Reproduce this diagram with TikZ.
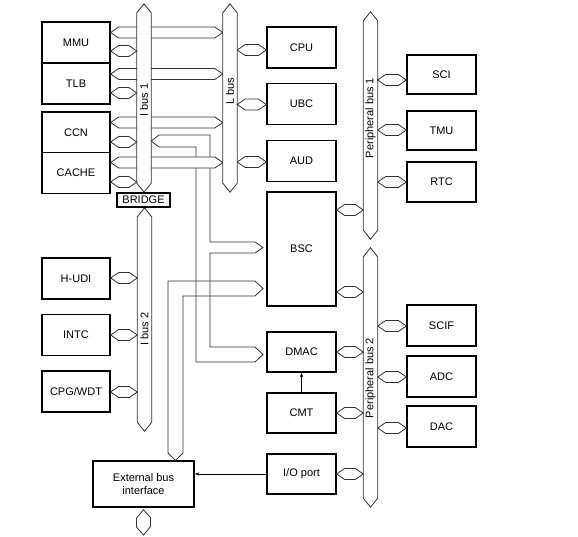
\documentclass[tikz,border=0pt]{standalone}
\usepackage{fontspec}
\setmainfont{Liberation Sans}
\usetikzlibrary{arrows.meta,calc}

% hexagon bus connector between two anchors at height #3
\newcommand\busconn[3]{%
  \draw[link] (#1 |- 0,#3) -- ++(8,-5.5) -- ($(#2 |- 0,#3)+(-8,-5.5)$)
    -- (#2 |- 0,#3) -- ++(-8,5.5) -- ($(#1 |- 0,#3)+(8,5.5)$) -- cycle;}

\begin{document}
\begin{tikzpicture}[x=1pt, y=-1pt,
  every node/.style={font=\fontsize{11}{13}\selectfont},
  unit/.style={draw, line width=1.3pt, fill=white, minimum width=68pt,
               minimum height=41pt, inner sep=0pt, align=center},
  link/.style={draw=black!80, line width=0.8pt, fill=white},
  chan/.style={draw=black!80, line width=0.8pt},
  busbody/.style={minimum width=14pt, inner sep=0pt},
  buslbl/.style={rotate=90, inner sep=0pt},
  sig/.style={-{Latex[length=4pt,width=3.5pt]}, line width=0.7pt},
]
\useasboundingbox (0,0) rectangle (578,536);

%% -- Left column: I bus units --------------------------------------------
\node[unit] (mmu)   at (76,42.5)  {MMU};
\node[unit] (tlb)   at (76,83.5)  {TLB};
\node[unit] (ccn)   at (76,132.5) {CCN};
\node[unit] (cache) at (76,173)   {CACHE};
\node[unit] (hudi)  at (76,278.5) {H-UDI};
\node[unit] (intc)  at (76,335)   {INTC};
\node[unit] (cpg)   at (76,391.5) {CPG/WDT};

%% -- Middle column -------------------------------------------------------
\node[unit, minimum width=69pt] (cpu)  at (301.5,47.5) {CPU};
\node[unit, minimum width=69pt] (ubc)  at (301.5,104)  {UBC};
\node[unit, minimum width=69pt] (aud)  at (301.5,161)  {AUD};
\node[unit, minimum width=69pt, minimum height=114pt] (bsc) at (301.5,249) {BSC};
\node[unit, minimum width=69pt, minimum height=40pt] (dmac) at (301.5,352) {DMAC};
\node[unit, minimum width=69pt, minimum height=40pt] (cmt)  at (301.5,413) {CMT};
\node[unit, minimum width=69pt, minimum height=40pt] (io)   at (301.5,474) {I/O port};

%% -- Right column: peripherals -------------------------------------------
\node[unit, minimum width=69pt, minimum height=39pt] (sci)  at (441.5,74.5)  {SCI};
\node[unit, minimum width=69pt, minimum height=39pt] (tmu)  at (441.5,130.5) {TMU};
\node[unit, minimum width=69pt, minimum height=40pt] (rtc)  at (441.5,182)   {RTC};
\node[unit, minimum width=69pt] (scif) at (441.5,325.5) {SCIF};
\node[unit, minimum width=69pt] (adc)  at (441.5,376.5) {ADC};
\node[unit, minimum width=69pt] (dac)  at (441.5,426.5) {DAC};

\node[unit, minimum width=101pt, minimum height=46pt] (ebi) at (143.5,484)
  {External bus\\interface};

%% -- Bus bodies ----------------------------------------------------------
\node[busbody, minimum height=188pt] (ibusA) at (144,98)      {};
\node[busbody, minimum height=188pt] (lbus)  at (230,98)      {};
\node[busbody, minimum height=223pt] (ibusB) at (144.5,319.5) {};
\node[busbody, minimum height=227pt] (pbusA) at (370.5,125.5) {};
\node[busbody, minimum height=259pt] (pbusB) at (370.5,377.5) {};

%% -- Internal channels to BSC / DMAC / external bus ----------------------
\draw[chan] (ibusA.east |- 0,141) -- (159,135) -- (210,135) -- (210,242)
  -- (255,242) -- (263,247.5) -- (255,253) -- (210,253) -- (210,347)
  -- (255,347) -- (263,354.5) -- (255,362) -- (196,362) -- (196,147)
  -- (159,147) -- cycle;
\draw[chan] (ebi.north -| 175.5,0) -- (168,453) -- (168,281) -- (255,281)
  -- (263,288.5) -- (255,296) -- (183,296) -- (183,453) -- cycle;

% wide links to L bus (under I bus 1)
\foreach \a/\y in {mmu/32.5, tlb/74, ccn/122.5, cache/162.5}
  \busconn{\a.east}{lbus.west}{\y};

%% -- Bus outlines ----------------------------------------------------------
\foreach \b in {ibusA, lbus, ibusB, pbusA, pbusB}
  \draw[link] (\b.north) -- ([yshift=-9pt]\b.north east)
    -- ([yshift=9pt]\b.south east) -- (\b.south)
    -- ([yshift=9pt]\b.south west) -- ([yshift=-9pt]\b.north west) -- cycle;

\node[buslbl] (lblIbusA) at (144,100)   {I bus 1};
\node[buslbl] (lblLbus)  at (230,91)    {L bus};
\node[buslbl] (lblIbusB) at (144.5,329) {I bus 2};
\node[buslbl] (lblPbusA) at (370.5,118) {Peripheral bus 1};
\node[buslbl] (lblPbusB) at (370.5,378) {Peripheral bus 2};

%% -- Bus connectors --------------------------------------------------------
\foreach \a/\b/\y in {mmu.east/ibusA.west/51, tlb.east/ibusA.west/93,
    ccn.east/ibusA.west/142, cache.east/ibusA.west/182,
    hudi.east/ibusB.west/278, intc.east/ibusB.west/335, cpg.east/ibusB.west/392,
    lbus.east/cpu.west/50, lbus.east/ubc.west/104.5, lbus.east/aud.west/162,
    bsc.east/pbusA.west/210, pbusA.east/sci.west/80,
    pbusA.east/tmu.west/130, pbusA.east/rtc.west/182,
    bsc.east/pbusB.west/292, dmac.east/pbusB.west/352,
    cmt.east/pbusB.west/413, io.east/pbusB.west/474,
    pbusB.east/scif.west/326, pbusB.east/adc.west/377, pbusB.east/dac.west/428}
  \busconn{\a}{\b}{\y};

\node[draw, line width=1.1pt, fill=white, minimum width=53pt,
      minimum height=14pt, inner sep=0pt] (bridge) at (143.5,200) {BRIDGE};

% external bus
\coordinate (extbus) at (143.5,535);
\draw[link] ($(ebi.south)+(0,2)$) -- ++(7,8) -- ++(0,9) -- (extbus)
  -- ++(-7,-8) -- ++(0,-9) -- cycle;

%% -- Signals ---------------------------------------------------------------
\draw[sig] (cmt.north) -- (dmac.south);
\draw[sig] (io.west) -- (ebi.east |- io.west);

\end{tikzpicture}
\end{document}
